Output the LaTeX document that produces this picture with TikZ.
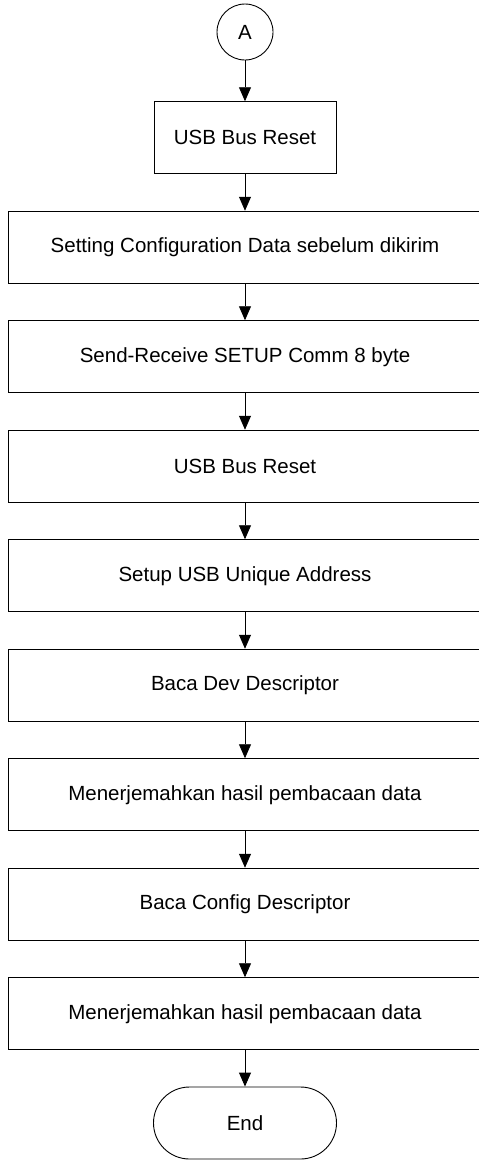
\documentclass[tikz,border=0pt]{standalone}
\usepackage{fontspec}
\setmainfont{Liberation Sans}
\usetikzlibrary{arrows.meta,shapes.geometric}

\begin{document}
\begin{tikzpicture}[x=1pt,y=-1pt,>={Triangle[length=14pt,width=12pt]},
  proses/.style={draw,line width=0.9pt,minimum height=72pt,inner sep=0pt,
    font=\fontsize{20.5}{24}\selectfont},
  lebar/.style={proses,minimum width=474pt},
  panah/.style={->,line width=0.9pt}]

\def\tengah{245}
\def\jarak{109.5}

\useasboundingbox (0,0) rectangle (479,1160);

\node[draw,circle,line width=0.9pt,minimum size=56pt,inner sep=0pt,
  font=\fontsize{20.5}{24}\selectfont] (konA) at (\tengah,32) {A};

\node[proses,minimum width=182pt] (reset1) at (\tengah,137.7) {USB Bus Reset};
\node[lebar] (config) at (\tengah,137.7+\jarak) {Setting Configuration Data sebelum dikirim};
\node[lebar] (setup) at (\tengah,137.7+2*\jarak) {Send-Receive SETUP Comm 8 byte};
\node[lebar] (reset2) at (\tengah,137.7+3*\jarak) {USB Bus Reset};
\node[lebar] (alamat) at (\tengah,137.7+4*\jarak) {Setup USB Unique Address};
\node[lebar] (devdesc) at (\tengah,137.7+5*\jarak) {Baca Dev Descriptor};
\node[lebar] (terjemah1) at (\tengah,137.7+6*\jarak) {Menerjemahkan hasil pembacaan data};
\node[lebar] (cfgdesc) at (\tengah,137.7+7*\jarak) {Baca Config Descriptor};
\node[lebar] (terjemah2) at (\tengah,137.7+8*\jarak) {Menerjemahkan hasil pembacaan data};

\node[proses,minimum width=183pt,rounded corners=36pt] (selesai) at (\tengah,1123) {End};

\draw[panah] (konA) -- (reset1);
\draw[panah] (reset1) -- (config);
\draw[panah] (config) -- (setup);
\draw[panah] (setup) -- (reset2);
\draw[panah] (reset2) -- (alamat);
\draw[panah] (alamat) -- (devdesc);
\draw[panah] (devdesc) -- (terjemah1);
\draw[panah] (terjemah1) -- (cfgdesc);
\draw[panah] (cfgdesc) -- (terjemah2);
\draw[panah] (terjemah2) -- (selesai);

\end{tikzpicture}
\end{document}
